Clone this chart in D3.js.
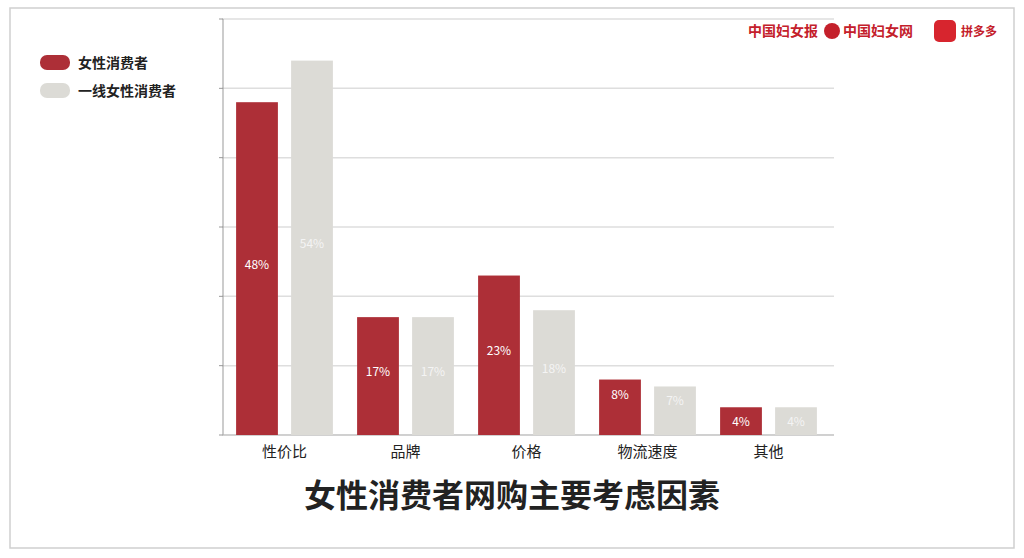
<!DOCTYPE html>
<html>
<head>
<meta charset="utf-8">
<style>
  body { margin: 0; background: #fff; }
  text { font-family: "Noto Sans CJK SC", sans-serif; }
</style>
</head>
<body>
<svg id="chart" width="1024" height="558"></svg>
<script src="https://cdn.jsdelivr.net/npm/d3@7"></script>
<script>
var categories = ['性价比', '品牌', '价格', '物流速度', '其他'];
var series = ['女性消费者', '一线女性消费者'];
var women = [48, 17, 23, 8, 4];
var tier1 = [54, 17, 18, 7, 4];
var colors = ['#ad2f37', '#dcdbd6'];

var svg = d3.select('#chart');

// frame
svg.append('rect').attr('x', 10).attr('y', 8).attr('width', 1004).attr('height', 540)
  .attr('fill', 'none').attr('stroke', '#cfcfcf').attr('stroke-width', 1.5);

var x0 = d3.scaleBand().domain(categories).range([224, 829]).paddingInner(0.2).paddingOuter(0.1);
var x1 = d3.scaleBand().domain(series).range([0, x0.bandwidth()]).paddingInner(0.24);
var y = d3.scaleLinear().domain([0, 60]).range([435, 19]);

// grid
svg.append('g').selectAll('line').data(y.ticks(6)).join('line')
  .attr('x1', 222).attr('x2', 834)
  .attr('y1', d => y(d)).attr('y2', d => y(d))
  .attr('stroke', '#dedede').attr('stroke-width', 1.5);

// axis
svg.append('line').attr('x1', 223).attr('x2', 223).attr('y1', 19).attr('y2', 435)
  .attr('stroke', '#999');
svg.append('g').selectAll('line').data(y.ticks(6)).join('line')
  .attr('x1', 219).attr('x2', 223).attr('y1', d => y(d)).attr('y2', d => y(d))
  .attr('stroke', '#999');
svg.append('line').attr('x1', 222).attr('x2', 834).attr('y1', 435).attr('y2', 435)
  .attr('stroke', '#bbb');

var rows = categories.map((c, i) => ({ c: c, vals: [women[i], tier1[i]] }));

var g = svg.append('g').selectAll('g').data(rows).join('g')
  .attr('transform', d => 'translate(' + x0(d.c) + ',0)');

g.selectAll('rect').data(d => d.vals.map((v, j) => ({ s: series[j], v: v, j: j }))).join('rect')
  .attr('x', d => x1(d.s)).attr('y', d => y(d.v))
  .attr('width', x1.bandwidth()).attr('height', d => y(0) - y(d.v))
  .attr('fill', d => colors[d.j]);

g.selectAll('text.v').data(d => d.vals.map((v, j) => ({ s: series[j], v: v, j: j }))).join('text')
  .attr('class', 'v')
  .attr('x', d => x1(d.s) + x1.bandwidth() / 2)
  .attr('y', d => d.v > 15 ? (y(d.v) + y(0)) / 2 : y(d.v) + 19)
  .attr('text-anchor', 'middle').attr('font-size', 12)
  .attr('fill', d => d.j === 0 ? '#fff' : '#f4f4f4')
  .text(d => d.v + '%');

// category labels
svg.append('g').selectAll('text').data(categories).join('text')
  .attr('x', d => x0(d) + x0.bandwidth() / 2).attr('y', 457)
  .attr('text-anchor', 'middle').attr('font-size', 15).attr('fill', '#222')
  .text(d => d);

// legend
var lg = svg.append('g').selectAll('g').data(series).join('g')
  .attr('transform', (d, i) => 'translate(40,' + (63 + i * 28) + ')');
lg.append('rect').attr('x', 0).attr('y', -8).attr('width', 30).attr('height', 15).attr('rx', 7)
  .attr('fill', (d, i) => colors[i]);
lg.append('text').attr('x', 38).attr('y', 5).attr('font-size', 14).attr('font-weight', 'bold')
  .attr('fill', '#222').text(d => d);

// title
svg.append('text').attr('x', 512).attr('y', 507).attr('text-anchor', 'middle')
  .attr('font-size', 32).attr('font-weight', 'bold').attr('fill', '#222')
  .text('女性消费者网购主要考虑因素');

// source marks
svg.append('text').attr('x', 748).attr('y', 36).attr('font-size', 14).attr('font-weight', 'bold')
  .attr('fill', '#c4202b').text('中国妇女报');
svg.append('circle').attr('cx', 832).attr('cy', 31).attr('r', 8).attr('fill', '#c4202b');
svg.append('text').attr('x', 843).attr('y', 36).attr('font-size', 14).attr('font-weight', 'bold')
  .attr('fill', '#c4202b').text('中国妇女网');
svg.append('rect').attr('x', 934).attr('y', 20).attr('width', 22).attr('height', 22).attr('rx', 5)
  .attr('fill', '#d7252e');
svg.append('text').attr('x', 961).attr('y', 36).attr('font-size', 12).attr('font-weight', 'bold')
  .attr('fill', '#c4202b').text('拼多多');
</script>
</body>
</html>
